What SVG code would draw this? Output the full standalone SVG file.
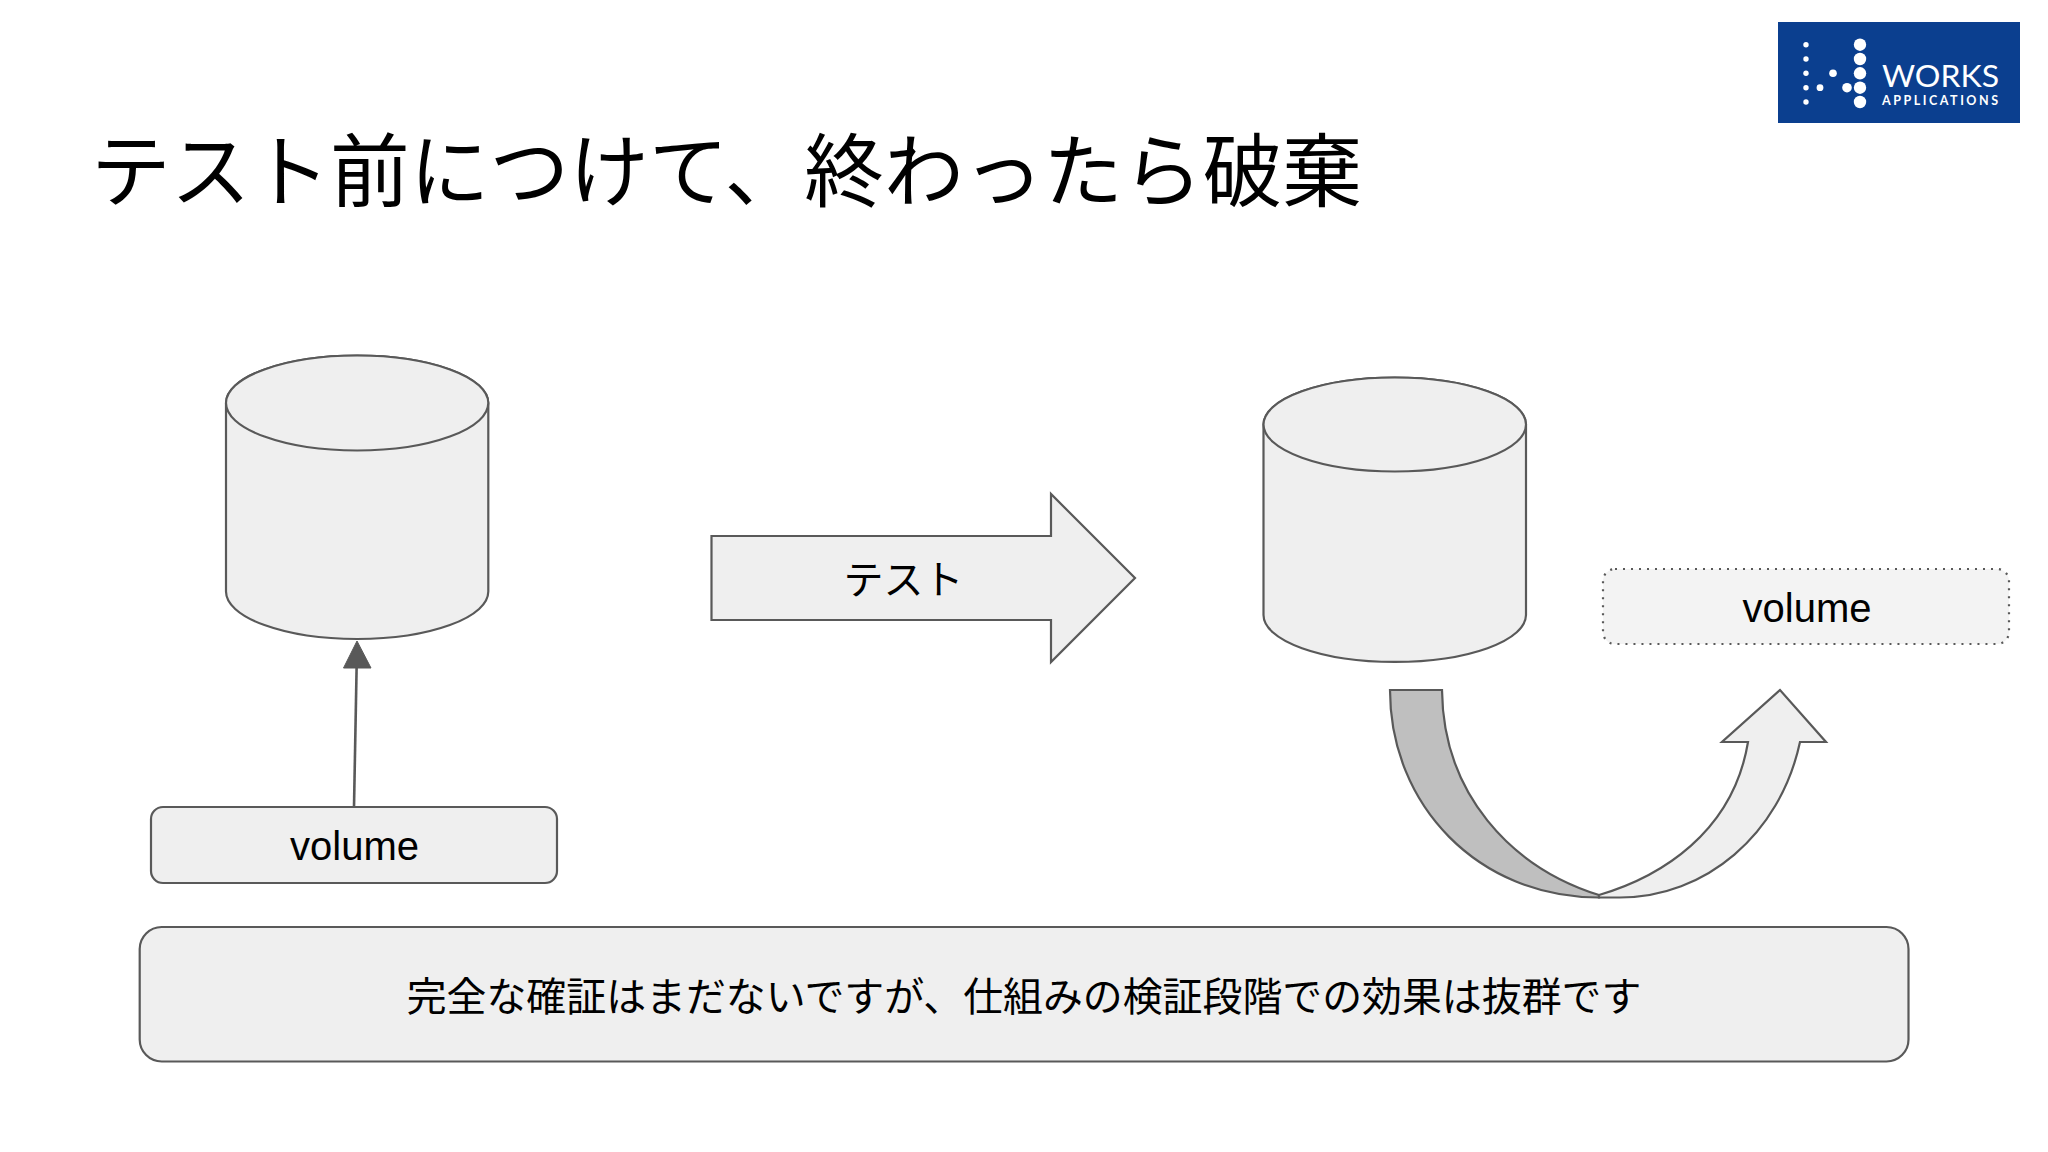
<svg xmlns="http://www.w3.org/2000/svg" width="2048" height="1152" viewBox="0 0 2048 1152">
<style>
.s{fill:#efefef;stroke:#595959;stroke-width:2.2}
.t{font-family:"Liberation Sans","Noto Sans CJK JP",sans-serif;fill:#000;text-anchor:middle}
.j{font-family:"Noto Sans CJK JP",sans-serif;fill:#000;font-weight:400}
.d{fill:#fff}
</style>
<rect width="2048" height="1152" fill="#fff"/>
<g id="logo">
<rect x="1778" y="22" width="242" height="101" fill="#0b3f8f"/>
<g class="d">
<circle cx="1806" cy="44.700" r="2.700"/><circle cx="1806" cy="59" r="2.700"/><circle cx="1806" cy="73.300" r="2.700"/><circle cx="1806" cy="87.700" r="2.700"/><circle cx="1806" cy="102" r="2.700"/>
<circle cx="1860" cy="44.700" r="6.200"/><circle cx="1860" cy="59" r="6.200"/><circle cx="1860" cy="73.300" r="6.200"/><circle cx="1860" cy="87.700" r="6.200"/><circle cx="1860" cy="102" r="6.200"/>
<circle cx="1833" cy="73.300" r="3.800"/><circle cx="1820" cy="87.700" r="3.400"/><circle cx="1847" cy="87.700" r="4.800"/>
</g>
<text x="1882" y="87" font-family="Lato,sans-serif" font-size="30" fill="#fff" textLength="117" lengthAdjust="spacingAndGlyphs">WORKS</text>
<text x="1882" y="105" font-family="Lato,sans-serif" font-size="12.500" font-weight="700" fill="#fff" textLength="116" lengthAdjust="spacing">APPLICATIONS</text>
</g>
<text id="title" class="j" x="91" y="199.500" font-size="79.700">テスト前につけて、終わったら破棄</text>
<g id="connectors">
<line x1="354" y1="807" x2="356.600" y2="668" stroke="#595959" stroke-width="2.600"/>
<polygon points="357,641 343.500,668 371,668" fill="#595959" stroke="#595959" stroke-width="1"/>
</g>
<g id="cylinder-left">
<path class="s" d="M226 403A131.150 47.500 0 0 1 488.300 403V591.500A131.150 47.500 0 0 1 226 591.500Z"/>
<ellipse class="s" cx="357.150" cy="403" rx="131.150" ry="47.500"/>
</g>
<g id="volume-left">
<rect class="s" x="151" y="807" width="406" height="76" rx="12"/>
<text class="t" x="354.500" y="860" font-size="40">volume</text>
</g>
<g id="test-arrow">
<polygon class="s" points="711.500,536 1051,536 1051,494 1135,578 1051,662 1051,620 711.500,620"/>
<text class="j" x="903.500" y="593.500" font-size="40" text-anchor="middle">テスト</text>
</g>
<g id="cylinder-right">
<path class="s" d="M1263.500 424.500A131.250 47 0 0 1 1526 424.500V615A131.250 47 0 0 1 1263.500 615Z"/>
<ellipse class="s" cx="1394.750" cy="424.500" rx="131.250" ry="47"/>
</g>
<g id="volume-right">
<rect x="1603" y="569" width="406" height="75" rx="12" fill="#f3f3f3" stroke="#595959" stroke-width="2.200" stroke-dasharray="2 6"/>
<text class="t" x="1807" y="621.700" font-size="40">volume</text>
</g>
<g id="curved-arrow">
<path d="M1390 690H1442C1443 793 1510 867 1599 895V897.500C1478 897.500 1390 805 1390 690Z" fill="#bfbfbf" stroke="#595959" stroke-width="2.200"/>
<path class="s" d="M1599 895C1660 877 1733 833 1748 742H1722L1780 690L1826 742H1800C1780 835 1705 897.500 1620 897.500Q1608 897.500 1599 897.500Z"/>
</g>
<g id="note">
<rect class="s" x="139.700" y="927" width="1768.800" height="134.500" rx="22"/>
<text class="j" x="1024" y="1011" font-size="39.900" text-anchor="middle">完全な確証はまだないですが、仕組みの検証段階での効果は抜群です</text>
</g>
</svg>
